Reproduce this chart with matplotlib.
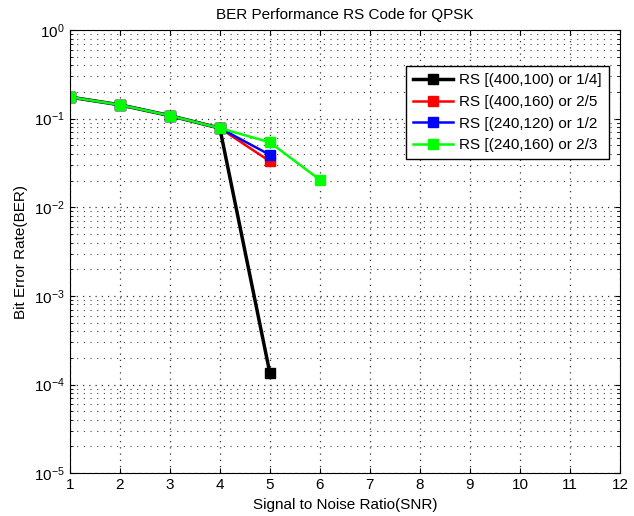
import matplotlib
matplotlib.use('Agg')
import matplotlib.pyplot as plt
from matplotlib.ticker import LogLocator, NullFormatter

plt.rcParams['font.family'] = ['Liberation Sans', 'DejaVu Sans']

snr_black = [1, 2, 3, 4, 5]
ber_black = [0.175, 0.143, 0.108, 0.078, 1.35e-4]
snr_red = [1, 2, 3, 4, 5]
ber_red = [0.175, 0.143, 0.108, 0.078, 0.033]
snr_blue = [1, 2, 3, 4, 5]
ber_blue = [0.175, 0.143, 0.108, 0.078, 0.039]
snr_green = [1, 2, 3, 4, 5, 6]
ber_green = [0.175, 0.143, 0.108, 0.078, 0.054, 0.0204]
labels = ['RS [(400,100) or 1/4]', 'RS [(400,160) or 2/5',
          'RS [(240,120) or 1/2', 'RS [(240,160) or 2/3']

fig = plt.figure(figsize=(6.34, 5.16), dpi=100)
ax = fig.add_axes([0.110, 0.083, 0.868, 0.859])

ax.semilogy(snr_black, ber_black, '-s', color='black', lw=2.5, ms=7, label=labels[0])
ax.semilogy(snr_red, ber_red, '-s', color='red', lw=1.8, ms=7, label=labels[1])
ax.semilogy(snr_blue, ber_blue, '-s', color='blue', lw=1.8, ms=7, label=labels[2])
ax.semilogy(snr_green, ber_green, '-s', color='#00ff00', lw=1.8, ms=7, label=labels[3])

ax.set_xlim(1, 12)
ax.set_ylim(1e-5, 1)
ax.set_xticks(range(1, 13))
ax.yaxis.set_major_locator(LogLocator(base=10, numticks=10))
ax.yaxis.set_minor_locator(LogLocator(base=10, subs=range(2, 10), numticks=10))
ax.yaxis.set_minor_formatter(NullFormatter())
ax.grid(True, which='major', linestyle=(0, (1, 4)), color='#333333', lw=0.9)
ax.grid(True, which='minor', axis='y', linestyle=(0, (1, 5)), color='#444444', lw=0.8)
ax.tick_params(labelsize=11, direction='in', top=True, right=True)
ax.tick_params(which='minor', direction='in', right=True)

ax.set_title('BER Performance RS Code for QPSK', fontsize=11, pad=8)
ax.set_xlabel('Signal to Noise Ratio(SNR)', fontsize=11)
ax.set_ylabel('Bit Error Rate(BER)', fontsize=11)

leg = ax.legend(loc='upper right', bbox_to_anchor=(0.993, 0.935), fontsize=11,
                fancybox=False, framealpha=1, edgecolor='black',
                handlelength=2.6, borderpad=0.45, labelspacing=0.5,
                handletextpad=0.4)
leg.get_frame().set_linewidth(1.0)

fig.savefig('out.png', dpi=100)
